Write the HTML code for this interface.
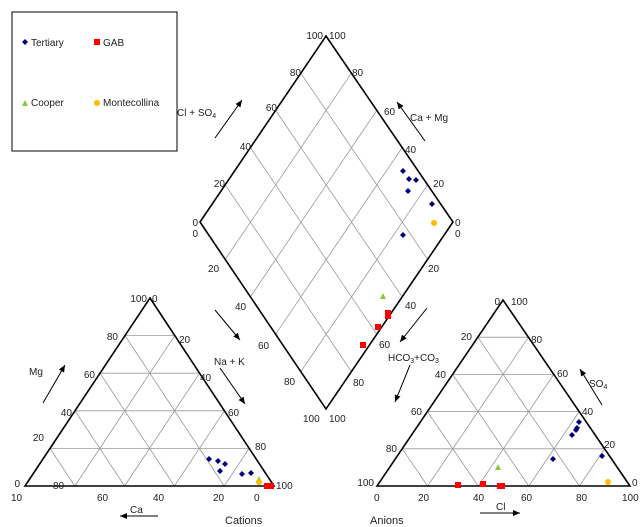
<!DOCTYPE html>
<html><head><meta charset="utf-8"><style>
html,body{margin:0;padding:0;background:#fff;}
svg{display:block;font-family:"Liberation Sans",sans-serif;font-size:10px;fill:#222;}
</style></head><body>
<svg id="s" width="642" height="527" viewBox="0 0 642 527" xmlns="http://www.w3.org/2000/svg">
<defs><marker id="ar" markerWidth="8" markerHeight="8" refX="7" refY="4" orient="auto" markerUnits="userSpaceOnUse"><path d="M0,1 L7,4 L0,7 Z" fill="#000"/></marker></defs>
<g id="grid" stroke="#999" stroke-width="0.8" fill="none"></g>
<g stroke="#000" stroke-width="1.6" fill="none">
<polygon points="25,486 274,486 150,298"/>
<polygon points="377,486 630,486 503,300"/>
<polygon points="326,36 453,222 326,409 200,222"/>
</g>
<rect x="12" y="12" width="165" height="139" fill="none" stroke="#000" stroke-width="1"/>
<g stroke="#000" stroke-width="1" marker-end="url(#ar)">
<line x1="158" y1="516" x2="120" y2="516"/>
<line x1="43" y1="403" x2="65" y2="365"/>
<line x1="215" y1="310" x2="240" y2="340"/>
<line x1="220" y1="368" x2="245" y2="404"/>
<line x1="480" y1="513" x2="520" y2="513"/>
<line x1="602" y1="405" x2="580" y2="369"/>
<line x1="427" y1="308" x2="400" y2="342"/>
<line x1="410" y1="365" x2="395" y2="402"/>
<line x1="215" y1="138" x2="242" y2="100"/>
<line x1="425" y1="141" x2="397" y2="102"/>
</g>
<g>
<path d="M22,42 l3,-3 l3,3 l-3,3z" fill="#000080"/><text x="31" y="46">Tertiary</text>
<rect x="94" y="39" width="6" height="6" fill="#f00"/><text x="103" y="46">GAB</text>
<path d="M22,106 l3,-6 l3,6z" fill="#8c3"/><text x="31" y="106">Cooper</text>
<circle cx="97" cy="103" r="3" fill="#fb0"/><text x="103" y="106">Montecollina</text>
</g>
<g text-anchor="end">
<text x="147" y="302">100</text><text x="118" y="340">80</text><text x="95" y="378">60</text>
<text x="72" y="416">40</text><text x="44" y="441">20</text><text x="20" y="487">0</text>
</g>
<g>
<text x="152" y="302">0</text><text x="179" y="343">20</text><text x="200" y="381">40</text>
<text x="228" y="416">60</text><text x="255" y="450">80</text><text x="276" y="489">100</text>
<text x="53" y="489">80</text>
<text x="11" y="501">10</text><text x="97" y="501">60</text><text x="153" y="501">40</text>
<text x="213" y="501">20</text><text x="254" y="501">0</text>
<text x="130" y="513">Ca</text><text x="225" y="524" font-size="11">Cations</text>
<text x="29" y="375">Mg</text><text x="214" y="365">Na + K</text>
</g>
<g text-anchor="end">
<text x="500" y="305">0</text><text x="472" y="340">20</text><text x="446" y="378">40</text>
<text x="422" y="415">60</text><text x="397" y="452">80</text><text x="374" y="486">100</text>
</g>
<g>
<text x="511" y="305">100</text><text x="531" y="343">80</text><text x="557" y="377">60</text>
<text x="582" y="415">40</text><text x="604" y="448">20</text><text x="632" y="486">0</text>
<text x="374" y="501">0</text><text x="418" y="501">20</text><text x="473" y="501">40</text>
<text x="521" y="501">60</text><text x="576" y="501">80</text><text x="622" y="501">100</text>
<text x="496" y="510">Cl</text><text x="370" y="524" font-size="11">Anions</text>
<text x="589" y="387">SO<tspan font-size="7" dy="2">4</tspan></text>
<text x="388" y="361">HCO<tspan font-size="7" dy="2">3</tspan><tspan dy="-2">+CO</tspan><tspan font-size="7" dy="2">3</tspan></text>
</g>
<g text-anchor="end">
<text x="323" y="39">100</text><text x="301" y="76">80</text><text x="277" y="111">60</text>
<text x="251" y="150">40</text><text x="225" y="187">20</text><text x="198" y="226">0</text><text x="198" y="237">0</text>
</g>
<g>
<text x="329" y="39">100</text><text x="352" y="76">80</text><text x="384" y="115">60</text>
<text x="405" y="153">40</text><text x="433" y="187">20</text><text x="455" y="226">0</text><text x="455" y="237">0</text>
<text x="208" y="272">20</text><text x="235" y="310">40</text><text x="258" y="349">60</text>
<text x="284" y="385">80</text><text x="303" y="422">100</text>
<text x="428" y="272">20</text><text x="405" y="309">40</text><text x="379" y="348">60</text>
<text x="353" y="386">80</text><text x="329" y="422">100</text>
<text x="177" y="116">Cl + SO<tspan font-size="7" dy="2">4</tspan></text>
<text x="410" y="121">Ca + Mg</text>
</g>
<g id="pts"></g>
</svg>
<script>
var NS="http://www.w3.org/2000/svg",g=document.getElementById('grid'),p=document.getElementById('pts');
function L(a,b){var l=document.createElementNS(NS,'line');l.setAttribute('x1',a[0]);l.setAttribute('y1',a[1]);l.setAttribute('x2',b[0]);l.setAttribute('y2',b[1]);g.appendChild(l);}
function I(a,b,t){return[a[0]+t*(b[0]-a[0]),a[1]+t*(b[1]-a[1])];}
function tri(A,B,C){for(var i=1;i<5;i++){var t=i/5;L(I(A,C,t),I(B,C,t));var P=I(A,B,t);L(P,I(C,B,t));L(P,I(A,C,t));}}
tri([25,486],[274,486],[150,298]);tri([377,486],[630,486],[503,300]);
var T=[326,36],R=[453,222],Bo=[326,409],Le=[200,222];
for(var i=1;i<5;i++){var t=i/5;L(I(Le,Bo,t),I(T,R,t));L(I(Le,T,t),I(Bo,R,t));}
function D(x,y){var e=document.createElementNS(NS,'path');e.setAttribute('d','M'+(x-3)+','+y+' l3,-3 l3,3 l-3,3z');e.setAttribute('fill','#000080');p.appendChild(e);}
function S(x,y,w){var e=document.createElementNS(NS,'rect');e.setAttribute('x',x-3);e.setAttribute('y',y-3);e.setAttribute('width',w||6);e.setAttribute('height',6);e.setAttribute('fill','#f00');p.appendChild(e);}
function Y(x,y){var e=document.createElementNS(NS,'circle');e.setAttribute('cx',x);e.setAttribute('cy',y);e.setAttribute('r',3);e.setAttribute('fill','#fb0');p.appendChild(e);}
function G(x,y){var e=document.createElementNS(NS,'path');e.setAttribute('d','M'+(x-3)+','+(y+3)+' l3,-6 l3,6z');e.setAttribute('fill','#8c3');p.appendChild(e);}
[[209,459],[218,461],[225,464],[220,471],[242,474],[251,473],[579,422],[577,428],[576,430],[572,435],[553,459],[602,456],[403,171],[409,179],[416,180],[408,191],[432,204],[403,235]].forEach(function(a){D(a[0],a[1]);});
G(259,479);Y(259,482);S(267,486,10);
G(498,467);Y(608,482);S(458,485);S(483,484);S(500,486,8);
G(383,296);S(388,313);S(388,316);S(378,327);S(363,345);Y(434,223);
</script>
</body></html>
